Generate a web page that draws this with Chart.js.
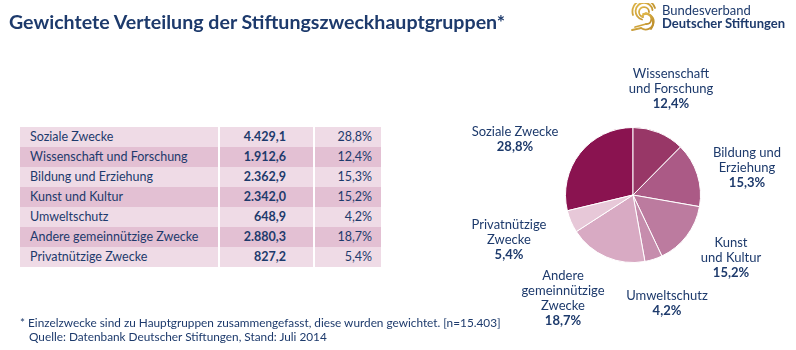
<!DOCTYPE html>
<html lang="de">
<head>
<meta charset="utf-8">
<script src="https://cdn.jsdelivr.net/npm/chart.js@4"></script>
<style>
    html, body { margin: 0; padding: 0; background: #fff; }
    body { width: 796px; height: 350px; position: relative; overflow: hidden; font-family: Lato, "Open Sans", sans-serif; color: #1d3a6c; }
    #chart { position: absolute; left: 0; top: 0; }
    .title { position: absolute; left: 9px; top: 10px; font-size: 19.6px; font-weight: 700; white-space: nowrap; }
    .logo { position: absolute; left: 629px; top: 3px; }
    .logo-text { position: absolute; left: 662px; top: 4px; font-size: 13px; line-height: 13px; white-space: nowrap; }
    .logo-text b { font-weight: 700; }
    table { position: absolute; left: 20px; top: 127px; border-collapse: collapse; font-size: 12.5px; }
    td { height: 20px; padding: 0; line-height: 20px; white-space: nowrap; }
    td.name { width: 188px; padding-left: 10px; }
    td.val { width: 66px; padding-right: 27px; text-align: right; font-weight: 700; border-left: 2px solid #fff; }
    td.pct { width: 57px; padding-right: 9px; text-align: right; border-left: 2px solid #fff; }
    .pie-label { position: absolute; transform: translate(-50%, -50%); text-align: center; font-size: 13px; line-height: 15px; white-space: nowrap; }
    .pie-label b { font-weight: 700; }
    .note { position: absolute; left: 20px; top: 316px; font-size: 11.8px; line-height: 14px; padding-left: 9px; text-indent: -9px; white-space: nowrap; }
</style>
</head>
<body>
<canvas id="chart" width="796" height="350"></canvas>
<div class="title" id="title">Gewichtete Verteilung der Stiftungszweckhauptgruppen*</div>
<svg class="logo" width="32" height="28" viewBox="0 0 32 28">
    <defs>
        <linearGradient id="gold" x1="0" y1="0" x2="1" y2="1">
            <stop offset="0" stop-color="#e2b94a"/>
            <stop offset="1" stop-color="#b98a2a"/>
        </linearGradient>
    </defs>
    <g fill="none" stroke="url(#gold)" stroke-width="1.8" stroke-linecap="round">
        <path d="M20 9 A5 5 0 1 0 14 14"/>
        <path d="M23.5 7 A8.5 8.5 0 1 0 13 16.5"/>
        <path d="M26 5 A11.5 11.5 0 0 0 4 12"/>
        <path d="M13 13.5 A5 5 0 1 1 17 21"/>
        <path d="M14 11 A8 8 0 1 1 12 25"/>
        <path d="M17 10 A10.5 10.5 0 0 1 22 26"/>
        <path d="M17 21 L6 24"/>
        <path d="M12 25 L3 27"/>
    </g>
</svg>
<div class="logo-text">Bundesverband<br><b>Deutscher Stiftungen</b></div>
<table id="table"></table>
<div id="labels"></div>
<div class="note">* Einzelzwecke sind zu Hauptgruppen zusammengefasst, diese wurden gewichtet. [n=15.403]<br>Quelle: Datenbank Deutscher Stiftungen, Stand: Juli 2014</div>

<script>
// Stiftungszweck-Hauptgruppen, gewichtet (Reihenfolge wie Tabelle und Kreis im Uhrzeigersinn)
const categories = ['Soziale Zwecke', 'Wissenschaft und Forschung', 'Bildung und Erziehung', 'Kunst und Kultur', 'Umweltschutz', 'Andere gemeinnützige Zwecke', 'Privatnützige Zwecke'];
const weightedCounts = [4429.1, 1912.6, 2362.9, 2342.0, 648.9, 2880.3, 827.2];
const shares = [28.8, 12.4, 15.3, 15.2, 4.2, 18.7, 5.4];
const pieLabelLines = [
    ['Soziale Zwecke'],
    ['Wissenschaft', 'und Forschung'],
    ['Bildung und', 'Erziehung'],
    ['Kunst', 'und Kultur'],
    ['Umweltschutz'],
    ['Andere', 'gemeinnützige', 'Zwecke'],
    ['Privatnützige', 'Zwecke']
];

const sliceColors = ['#8a1350', '#983767', '#ab5a86', '#bc7b9f', '#c68dad', '#d8aac3', '#e7c8d8'];
const rowColors = ['#efdbe6', '#e3c0d3'];
// label centre relative to pie centre
const labelOffsets = [[-118, -56], [38, -107], [114, -28], [98, 62], [34, 108], [-70, 103], [-124, 44]];

function formatDe(n) {
    const parts = n.toFixed(1).split('.');
    const int = parts[0].replace(/\B(?=(\d{3})+(?!\d))/g, '.');
    return int + ',' + parts[1];
}

function buildTable() {
    const table = document.getElementById('table');
    table.innerHTML = categories.map((cat, i) => `
        <tr style="background:${rowColors[i % 2]}">
            <td class="name">${cat}</td>
            <td class="val">${formatDe(weightedCounts[i])}</td>
            <td class="pct">${formatDe(shares[i])}%</td>
        </tr>
    `).join('');
}

function buildLabels() {
    const box = document.getElementById('labels');
    box.innerHTML = categories.map((cat, i) => `
        <div class="pie-label" id="pl${i}">${pieLabelLines[i].join('<br>')}<br><b>${formatDe(shares[i])}%</b></div>
    `).join('');
}

const labelPlugin = {
    id: 'pieLabels',
    afterDraw(chart) {
        const arc = chart.getDatasetMeta(0).data[0];
        if (!arc) return;
        labelOffsets.forEach(([dx, dy], i) => {
            const el = document.getElementById('pl' + i);
            el.style.left = (arc.x + dx) + 'px';
            el.style.top = (arc.y + dy) + 'px';
        });
    }
};

buildTable();
buildLabels();

const total = weightedCounts.reduce((a, b) => a + b, 0);

new Chart(document.getElementById('chart'), {
    type: 'pie',
    data: {
        labels: categories,
        datasets: [{
            data: weightedCounts,
            backgroundColor: sliceColors,
            borderColor: '#ffffff',
            borderWidth: 1
        }]
    },
    options: {
        responsive: false,
        animation: false,
        rotation: -360 * weightedCounts[0] / total,
        layout: { padding: { left: 565, right: 95, top: 127, bottom: 87 } },
        plugins: {
            legend: { display: false },
            tooltip: { enabled: false }
        }
    },
    plugins: [labelPlugin]
});
</script>
</body>
</html>
